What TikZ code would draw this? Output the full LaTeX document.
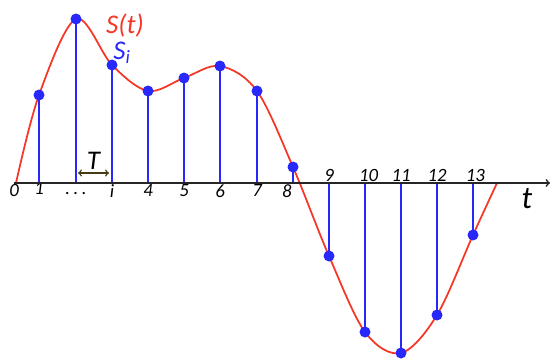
\documentclass[tikz,border=0pt]{standalone}
\usepackage{fontspec}
\setmainfont{Carlito}
\usetikzlibrary{arrows, positioning, backgrounds}
\definecolor{sblue}{RGB}{40,40,250}
\definecolor{sred}{RGB}{245,55,40}
\definecolor{tolive}{RGB}{70,60,20}
\tikzstyle{sample} = [circle, fill=sblue, inner sep=0pt, minimum size=0.33cm]
\tikzstyle{stem} = [sblue, line width=1.6pt]
\tikzstyle{signal} = [sred, line width=1.5pt]
\tikzstyle{axis} = [black!85, line width=1.4pt, ->, >=to]
\tikzstyle{period} = [tolive, line width=1.2pt, <->, >=to]
\tikzstyle{tick} = [font=\itshape\fontsize{16}{16}\selectfont, inner sep=1pt]
\tikzstyle{big} = [font=\itshape\fontsize{23}{23}\selectfont, inner sep=0pt]

\begin{document}
\begin{tikzpicture}[x=0.03cm, y=-0.03cm]
    \useasboundingbox (0,0) rectangle (554,359);
    % sampled values
    \node (s1) [sample] at (39,95) {};
    \node (s2) [sample] at (76,19) {};
    \node (s3) [sample] at (112,65) {};
    \node (s4) [sample] at (148,91) {};
    \node (s5) [sample] at (184,78) {};
    \node (s6) [sample] at (220,66) {};
    \node (s7) [sample] at (257,91) {};
    \node (s8) [sample] at (293,167) {};
    \node (s9) [sample] at (329,256) {};
    \node (s10) [sample] at (365,332) {};
    \node (s11) [sample] at (401,353) {};
    \node (s12) [sample] at (437,315) {};
    \node (s13) [sample] at (473,235) {};

    % time axis
    \coordinate [label={[tick]below:0}] (o) at (14,183);
    \coordinate (tend) at (550,183);
    \coordinate (e) at (497,183);
    \coordinate [label={[tick, yshift=2pt]below:1}] (a1) at (39,183);
    \coordinate [label={[tick, yshift=-7pt]below:.\hspace{3pt}.\hspace{3pt}.}] (a2) at (76,183);
    \coordinate [label={[tick]below:i}] (a3) at (112,183);
    \coordinate [label={[tick]below:4}] (a4) at (148,183);
    \coordinate [label={[tick]below:5}] (a5) at (184,183);
    \coordinate [label={[tick]below:6}] (a6) at (220,183);
    \coordinate [label={[tick]below:7}] (a7) at (257,183);
    \coordinate [label={[tick]below left=0pt and -6pt:8}] (a8) at (293,183);
    \coordinate [label={[tick]above:9}] (a9) at (329,183);
    \coordinate [label={[tick, xshift=3pt]above:10}] (a10) at (365,183);
    \coordinate [label={[tick]above:11}] (a11) at (401,183);
    \coordinate [label={[tick]above:12}] (a12) at (437,183);
    \coordinate [label={[tick, xshift=2pt]above:13}] (a13) at (473,183);
    \draw [axis] (o) -- (tend);
    \node (tlabel) [big, font=\itshape\fontsize{27}{27}\selectfont] at (527,199) {t};

    \begin{scope}[on background layer]
        \draw [signal] plot [smooth, tension=0.55] coordinates {(16,183) (s1.center) (s2.center) (s3.center) (s4.center) (s5.center) (s6.center) (s7.center) (s8.center) (s9.center) (s10.center) (s11.center) (s12.center) (s13.center) (e)};
        \draw [stem] (a1) -- (s1.center);
        \draw [stem] (a2) -- (s2.center);
        \draw [stem] (a3) -- (s3.center);
        \draw [stem] (a4) -- (s4.center);
        \draw [stem] (a5) -- (s5.center);
        \draw [stem] (a6) -- (s6.center);
        \draw [stem] (a7) -- (s7.center);
        \draw [stem] (a8) -- (s8.center);
        \draw [stem] (a9) -- (s9.center);
        \draw [stem] (a10) -- (s10.center);
        \draw [stem] (a11) -- (s11.center);
        \draw [stem] (a12) -- (s12.center);
        \draw [stem] (a13) -- (s13.center);
    \end{scope}

    % sampling period
    \coordinate (tl) at (78,173);
    \coordinate (tr) at (109,173);
    \draw [period] (tl) -- node [above=2pt, big, text=black] {T} (tr);

    \node (sig) [big, text=sred] at (125,26) {S(t)};
    \node (smp) [big, text=sblue] at (122,53) {S\textsubscript{i}};
\end{tikzpicture}
\end{document}
